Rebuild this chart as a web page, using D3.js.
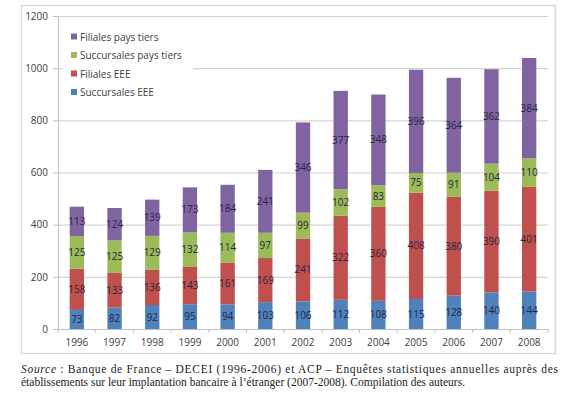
<!DOCTYPE html>
<html><head><meta charset="utf-8">
<script src="https://cdn.jsdelivr.net/npm/d3@7"></script>
<style>body{margin:0;background:#fff}svg{display:block}</style>
</head><body>
<svg id="c" width="575" height="395"></svg>
<script>
const years = ["1996","1997","1998","1999","2000","2001","2002","2003","2004","2005","2006","2007","2008"];
const succEEE = [73,82,92,95,94,103,106,112,108,115,128,140,144];
const filEEE = [158,133,136,143,161,169,241,322,360,408,380,390,401];
const succTiers = [125,125,129,132,114,97,99,102,83,75,91,104,110];
const filTiers = [113,124,139,173,184,241,346,377,348,396,364,362,384];
const seriesNames = ["Succursales EEE","Filiales EEE","Succursales pays tiers","Filiales pays tiers"];
const seriesColors = ["#4F81BD","#C0504D","#9BBB59","#8064A2"];
const yTicks = [0,200,400,600,800,1000,1200];

const svg = d3.select("#c");
const font = "'Open Sans', 'Liberation Sans', sans-serif";
const m = {l:58, r:548, t:16, b:329};

// frame
svg.append("rect").attr("x",21.5).attr("y",5.5).attr("width",534).attr("height",348)
  .attr("fill","#fff").attr("stroke","#d9d9d9").attr("stroke-width",1.5);

const x = d3.scaleBand().domain(years).range([m.l,m.r]).paddingInner(0.62).paddingOuter(0.31);
const y = d3.scaleLinear().domain([0,1200]).range([m.b,m.t]);

// gridlines
svg.append("g").selectAll("line").data(yTicks.filter(d=>d>0)).join("line")
  .attr("x1",m.l).attr("x2",m.r).attr("y1",d=>y(d)+0.5).attr("y2",d=>y(d)+0.5)
  .attr("stroke","#d4d4d4").attr("stroke-width",1.2);

// y axis
const ya = svg.append("g").attr("transform",`translate(${m.l},0)`)
  .call(d3.axisLeft(y).tickValues(yTicks).tickFormat(d3.format("d")).tickSize(5).tickPadding(5));
ya.select(".domain").attr("stroke","#bfbfbf");
ya.selectAll(".tick line").attr("stroke","#bfbfbf");
ya.selectAll("text").attr("font-family",font).attr("font-size",10).attr("fill","#404040");

// stacked data
const table = years.map((yr,i)=>({year:yr, s0:succEEE[i], s1:filEEE[i], s2:succTiers[i], s3:filTiers[i]}));
const stack = d3.stack().keys(["s0","s1","s2","s3"])(table);

const g = svg.append("g");
stack.forEach((layer,li)=>{
  g.append("g").selectAll("rect").data(layer).join("rect")
    .attr("x",d=>x(d.data.year)).attr("width",x.bandwidth())
    .attr("y",d=>y(d[1])).attr("height",d=>y(d[0])-y(d[1]))
    .attr("fill",seriesColors[li]);
});
stack.forEach((layer,li)=>{
  g.append("g").selectAll("text").data(layer).join("text")
    .attr("x",d=>x(d.data.year)+x.bandwidth()/2)
    .attr("y",d=>(y(d[0])+y(d[1]))/2)
    .attr("dy","0.35em").attr("text-anchor","middle")
    .attr("font-family",font).attr("font-size",10).attr("fill","#262640")
    .text(d=>d[1]-d[0]);
});

// x axis
const xa = svg.append("g").attr("transform",`translate(0,${m.b})`)
  .call(d3.axisBottom(x).tickSize(0).tickPadding(10));
xa.select(".domain").attr("stroke","#bfbfbf");
xa.selectAll("text").attr("font-family",font).attr("font-size",10).attr("fill","#404040");
const step = x.step();
svg.append("g").selectAll("line").data(d3.range(years.length+1)).join("line")
  .attr("x1",i=>m.l+i*step).attr("x2",i=>m.l+i*step)
  .attr("y1",m.b).attr("y2",m.b+4).attr("stroke","#bfbfbf");

// legend
const lg = svg.append("g");
lg.append("rect").attr("x",63).attr("y",26).attr("width",130).attr("height",76).attr("fill","#fff");
const legendOrder = [3,2,1,0];
legendOrder.forEach((si,k)=>{
  const ly = 37 + k*18.5;
  lg.append("rect").attr("x",71).attr("y",ly-3.5).attr("width",6).attr("height",6).attr("fill",seriesColors[si]);
  lg.append("text").attr("x",80).attr("y",ly).attr("dy","0.35em")
    .attr("font-family",font).attr("font-size",10).attr("fill","#404040").text(seriesNames[si]);
});

// source
const serif = "'Liberation Serif', 'Times New Roman', serif";
const t1 = svg.append("text").attr("x",21).attr("y",373).attr("font-family",serif).attr("font-size",11.5).attr("fill","#222")
  .attr("textLength",537).attr("lengthAdjust","spacing");
t1.append("tspan").attr("font-style","italic").text("Source");
t1.append("tspan").text("\u00a0: Banque de France \u2013 DECEI (1996-2006) et ACP \u2013 Enquêtes statistiques annuelles auprès des");
svg.append("text").attr("x",21).attr("y",386).attr("font-family",serif).attr("font-size",11.5).attr("fill","#222")
  .attr("textLength",444).attr("lengthAdjust","spacing")
  .text("établissements sur leur implantation bancaire à l\u2019étranger (2007-2008). Compilation des auteurs.");
</script>
</body></html>
